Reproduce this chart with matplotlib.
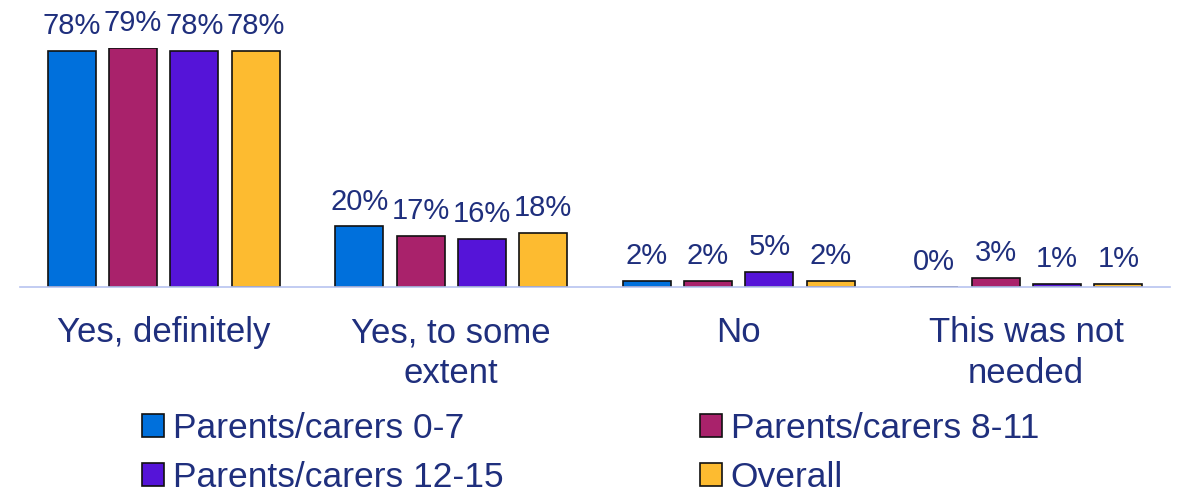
import matplotlib.pyplot as plt
import numpy as np

plt.rcParams["font.family"] = ["Liberation Sans", "DejaVu Sans"]

categories = ["Yes, definitely", "Yes, to some\nextent", "No", "This was not\nneeded"]
series_names = ["Parents/carers 0-7", "Parents/carers 8-11", "Parents/carers 12-15", "Overall"]
values = {
    "Parents/carers 0-7": [78, 20, 2, 0],
    "Parents/carers 8-11": [79, 17, 2, 3],
    "Parents/carers 12-15": [78, 16, 5, 1],
    "Overall": [78, 18, 2, 1],
}
colors = ["#0070DC", "#A9226B", "#5514D8", "#FDBB30"]
text_col = "#1F2F7D"

fig = plt.figure(figsize=(11.78, 4.96), dpi=100)
ax = fig.add_axes([20 / 1178, 209 / 496, 1150 / 1178, 239 / 496])

x = np.arange(len(categories))
step = 61.5 / 288
width = 48 / 288
handles = []
for i, (name, col) in enumerate(zip(series_names, colors)):
    pos = x + (i - 1.5) * step
    b = ax.bar(pos, values[name], width, color=col, edgecolor="#111111", linewidth=1.2, label=name)
    handles.append(b)
    for px, v in zip(pos, values[name]):
        ax.text(px, v + 3.5, f"{v}%", ha="center", va="bottom", fontsize=21, color=text_col)

ax.set_xlim(-0.5, 3.5)
ax.set_ylim(0, 79)
for s in ["top", "right", "left"]:
    ax.spines[s].set_visible(False)
ax.spines["bottom"].set_color("#B8C4F0")
ax.spines["bottom"].set_linewidth(1.2)
ax.set_yticks([])
ax.set_xticks(x)
ax.set_xticklabels(categories, fontsize=25, color=text_col, linespacing=1.3)
ax.tick_params(axis="x", length=0, pad=21)

# legend fills column-wise, so reorder to get row-wise reading
order = [0, 2, 1, 3]
fig.legend(handles=[handles[k] for k in order], labels=[series_names[k] for k in order],
           loc="lower left", bbox_to_anchor=(110 / 1178, -0.06), ncol=2, frameon=False,
           fontsize=25.5, labelcolor=text_col, handlelength=0.62, handleheight=0.62,
           handletextpad=0.25, columnspacing=5.55, labelspacing=0.45)

plt.savefig("out.png", dpi=100)
